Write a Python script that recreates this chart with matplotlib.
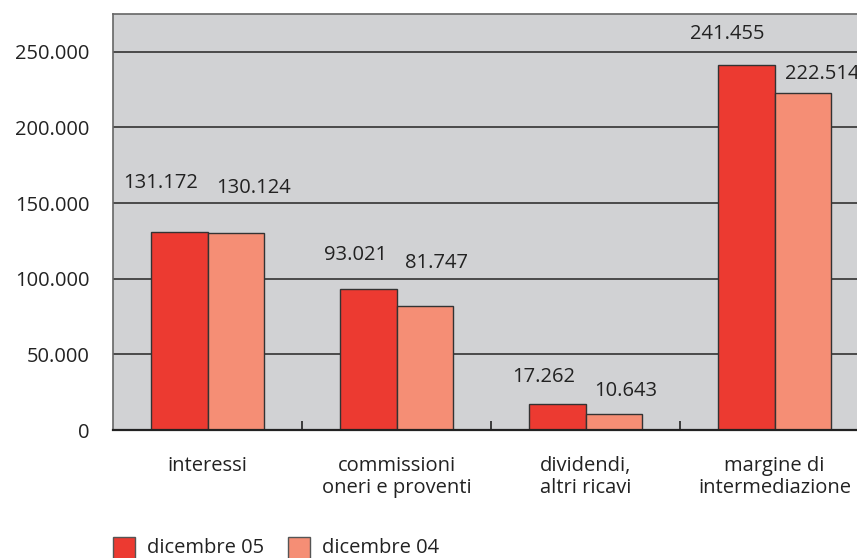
import matplotlib.pyplot as plt
import numpy as np
from matplotlib.patches import Rectangle

categories = ["interessi", "commissioni\noneri e proventi", "dividendi,\naltri ricavi",
              "margine di\nintermediazione"]
dic05 = [131172, 93021, 17262, 241455]
dic04 = [130124, 81747, 10643, 222514]
series_names = ["dicembre 05", "dicembre 04"]

RED = "#ec3a31"
SALMON = "#f58e75"
BG = "#d1d2d4"
TEXT = "#222222"
FS = 14.5

# per-label nudges (pixels) to follow the original placement
offs05 = [(-19, 49), (-13, 34), (-13, 27), (-19, 31)]
offs04 = [(18, 45), (12, 43), (12, 23), (19, 19)]

plt.rcParams["font.family"] = ["Open Sans", "DejaVu Sans"]


def fmt(v):
    return f"{v:,}".replace(",", ".")


fig = plt.figure(figsize=(8.57, 5.58), dpi=100)
# axes extends past the right edge, as in the original crop
ax = fig.add_axes([113 / 857, 128 / 558, 756 / 857, 416 / 558])
ax.set_facecolor(BG)

x = np.arange(len(categories))
w = 0.3
b1 = ax.bar(x + 0.35, dic05, width=w, color=RED, edgecolor="#333333", linewidth=1.0, zorder=3)
b2 = ax.bar(x + 0.65, dic04, width=w, color=SALMON, edgecolor="#333333", linewidth=1.0, zorder=3)

for bars, vals, offs in [(b1, dic05, offs05), (b2, dic04, offs04)]:
    for bar, v, (dx, dy) in zip(bars, vals, offs):
        ax.annotate(fmt(v), xy=(bar.get_x() + bar.get_width() / 2, v),
                    xytext=(dx, dy), textcoords="offset pixels",
                    ha="center", va="center", fontsize=FS, color=TEXT,
                    annotation_clip=False)

ax.set_xlim(0, 4)
ax.set_ylim(0, 275000)
yt = np.arange(0, 250001, 50000)
ax.set_yticks(yt)
ax.set_yticklabels([fmt(v) for v in yt], fontsize=FS, color=TEXT)
ax.tick_params(axis="y", length=0, pad=17)
ax.grid(axis="y", color="#4a4a4a", linewidth=1.4, zorder=1)

ax.set_xticks(x + 0.5)
ax.set_xticklabels(categories, fontsize=FS, color=TEXT, linespacing=1.1)
ax.tick_params(axis="x", which="major", length=0, pad=19)
ax.set_xticks([1, 2, 3], minor=True)
ax.tick_params(axis="x", which="minor", direction="in", length=6.5, width=1.2, color="#222222")

for s in ["top", "left", "right"]:
    ax.spines[s].set_color("#666666")
    ax.spines[s].set_linewidth(1.2)
ax.spines["bottom"].set_color("#222222")
ax.spines["bottom"].set_linewidth(1.6)
ax.spines["bottom"].set_zorder(4)

# legend at the bottom left
for (px, tx), name, col in zip([(113, 147), (288, 322)], series_names, [RED, SALMON]):
    fig.add_artist(Rectangle((px / 857, 1 - 559 / 558), 22 / 857, 22 / 558,
                             transform=fig.transFigure, facecolor=col,
                             edgecolor="#555555", linewidth=1.0))
    fig.text(tx / 857, 1 - 548 / 558, name, fontsize=FS, color=TEXT, va="center", ha="left")

fig.savefig("out.png", dpi=100, facecolor="white")
